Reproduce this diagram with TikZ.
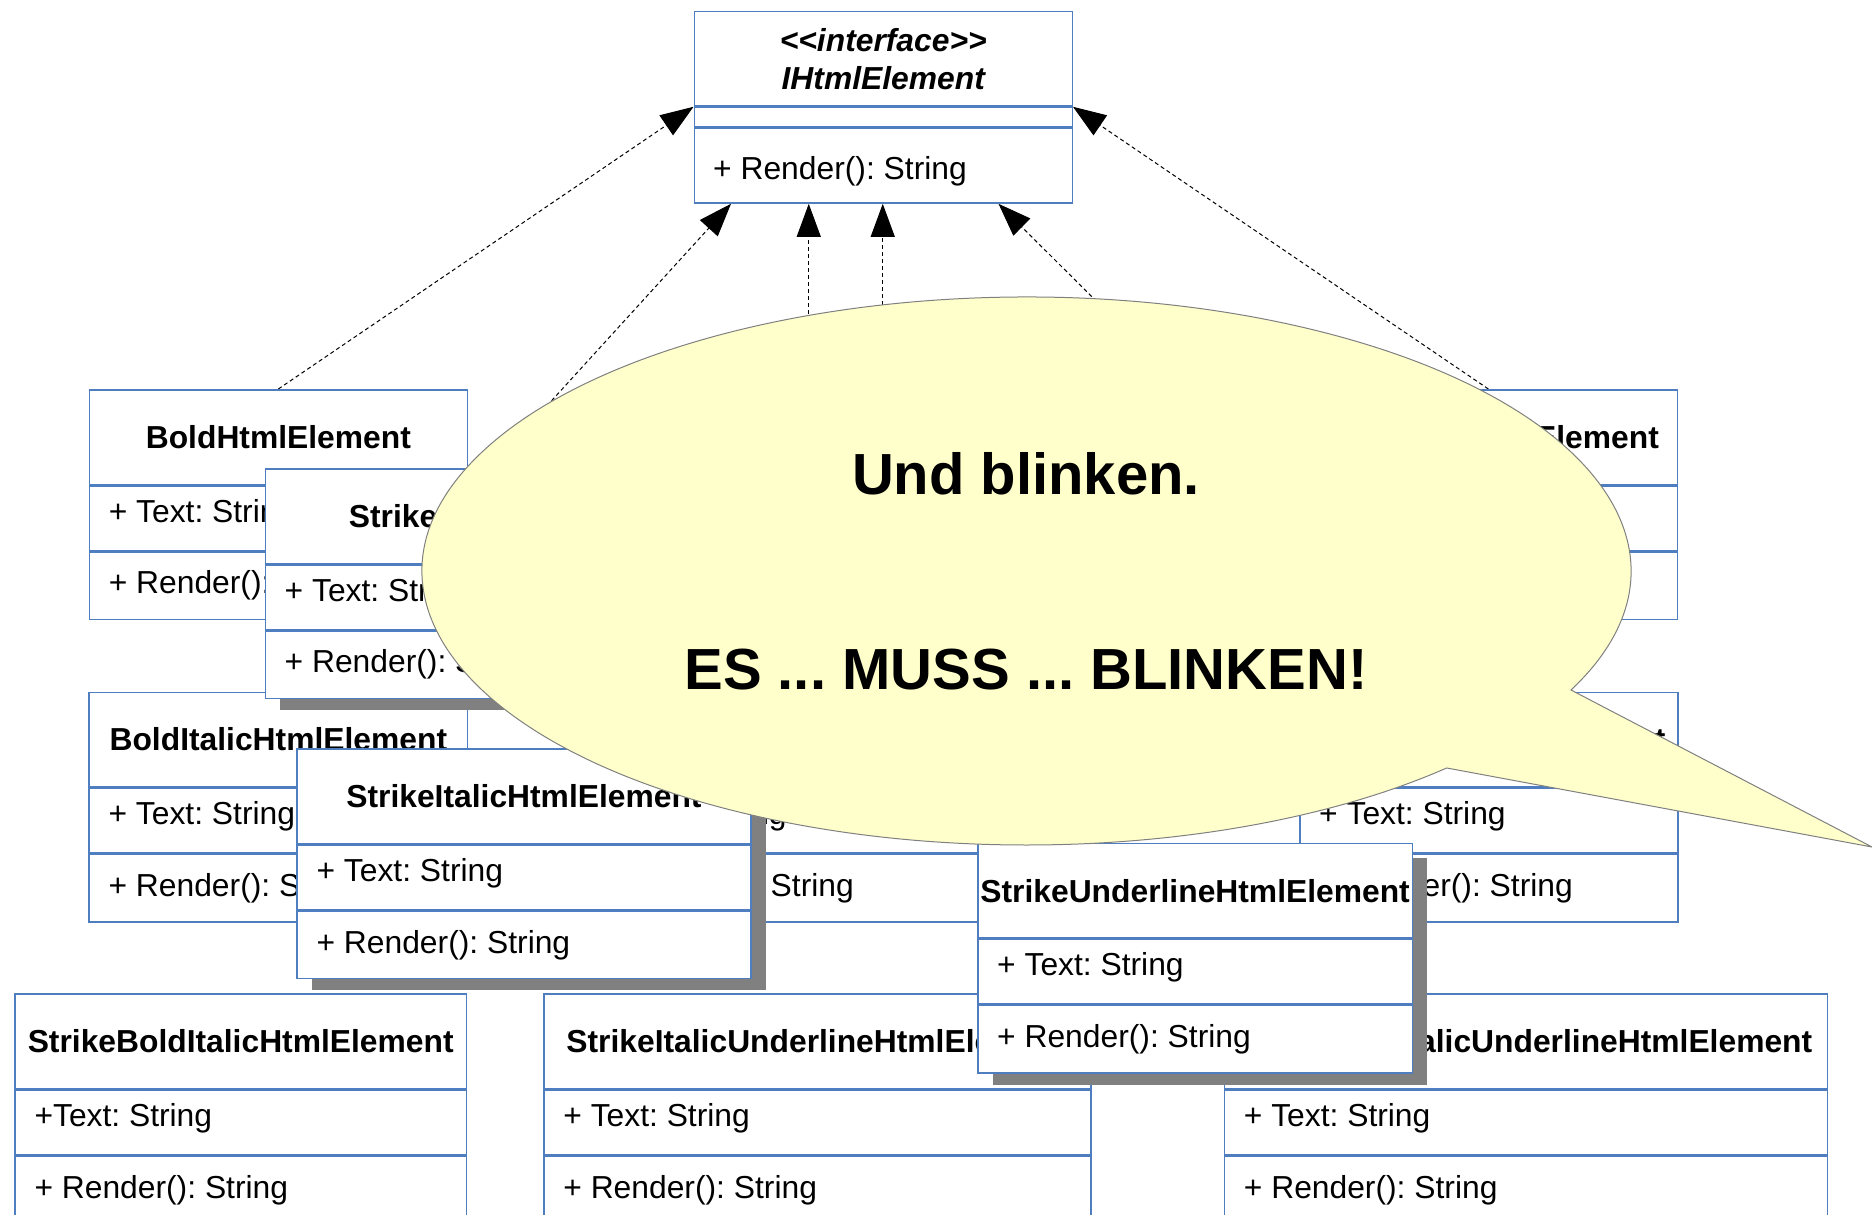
\documentclass[tikz,border=0pt]{standalone}
\usepackage{fontspec}
\setmainfont{Liberation Sans}
\usetikzlibrary{arrows.meta}
\definecolor{umlblue}{RGB}{79,126,192}
\definecolor{shadowgray}{RGB}{128,128,128}
\definecolor{bubblefill}{RGB}{255,255,204}
\definecolor{bubbleline}{RGB}{128,128,128}
\frenchspacing
\newcommand\umlsize{\fontsize{31.8}{38}\selectfont}
% class box: name, left, top, width, title, attribute, operation
\newcommand\umlclass[7]{%
  \node[classhead, minimum width=#4pt, anchor=north west] (#1) at (#2,#3) {#5};
  \node[classrow, minimum width=#4pt, minimum height=64.5pt, anchor=north west] (#1-attr) at (#1.south west) {};
  \node[classrow, minimum width=#4pt, minimum height=67.5pt, anchor=north west] (#1-op) at (#1-attr.south west) {};
  \node[member, anchor=west] (#1-attrtext) at ([xshift=20pt,yshift=4pt]#1-attr.west) {#6};
  \node[member, anchor=west] (#1-optext) at ([xshift=20pt]#1-op.west) {#7};
}
% drop shadow behind a class box: left, top, width
\newcommand\umlshadow[3]{%
  \fill[shadowgray] (#1+15.5,#2+15.5) rectangle ++(#3,226.5);
}
\pgfdeclarelayer{background}
\pgfsetlayers{background,main}
\tikzset{
  classhead/.style={draw=umlblue, fill=white, line width=1.5pt, inner sep=0pt,
    minimum height=94.5pt, font=\bfseries\umlsize},
  classrow/.style={draw=umlblue, fill=white, line width=1.5pt, inner sep=0pt},
  member/.style={inner sep=0pt, font=\umlsize},
  realize/.style={draw=black, line width=1pt, dash pattern=on 4pt off 3pt,
    -{Triangle[length=33pt,width=24pt]}},
  bubble/.style={draw=bubbleline, line width=1pt, fill=bubblefill},
  shout/.style={font=\bfseries\fontsize{58}{70}\selectfont, inner sep=0pt}
}
\begin{document}
\begin{tikzpicture}[x=1pt,y=-1pt]
\useasboundingbox (0,0) rectangle (1872,1215);

% interface
\node[classhead, minimum width=378pt, minimum height=94.6pt, align=center,
  font=\bfseries\itshape\fontsize{31.8}{38}\selectfont, anchor=north west]
  (iface) at (693.5,10.7) {<{}<interface>{}>\\IHtmlElement};
\node[classrow, minimum width=378pt, minimum height=19pt, anchor=north west]
  (iface-attr) at (iface.south west) {};
\node[classrow, minimum width=378pt, minimum height=75pt, anchor=north west]
  (iface-op) at (iface-attr.south west) {};
\node[member, anchor=west] (iface-optext) at (713,171) {+ Render(): String};

% plain boxes
\umlclass{bold}{88.6}{389}{378}{BoldHtmlElement}{+ Text: String}{+ Render(): String}
\umlclass{italic}{693}{389}{378}{ItalicHtmlElement}{+ Text: String}{+ Render(): String}
\umlclass{underline}{1298.6}{389}{378}{UnderlineHtmlElement}{+ Text: String}{+ Render(): String}
\umlclass{bolditalic}{88.4}{691.5}{378.4}{BoldItalicHtmlElement}{+ Text: String}{+ Render(): String}
\umlclass{boldunderline}{580}{691.5}{456}{BoldUnderlineHtmlElement}{+ Text: String}{+ Render(): String}
\umlclass{strikebold}{1299}{691.5}{378}{StrikeBoldHtmlElement}{+ Text: String}{+ Render(): String}
\umlclass{strikebolditalic}{14.3}{993.3}{451.3}{StrikeBoldItalicHtmlElement}{+Text: String}{+ Render(): String}
\umlclass{strikeitalicunderline}{543.2}{993.3}{546.8}{StrikeItalicUnderlineHtmlElement}{+ Text: String}{+ Render(): String}
\umlclass{allstyles}{1223.7}{993.3}{603}{StrikeBoldItalicUnderlineHtmlElement}{+ Text: String}{+ Render(): String}

% boxes with shadows
\umlshadow{264.5}{468}{450}
\umlclass{strike}{264.5}{468}{450}{StrikeHtmlElement}{+ Text: String}{+ Render(): String}
\umlshadow{296.4}{748.3}{453.6}
\umlclass{strikeitalic}{296.4}{748.3}{453.6}{StrikeItalicHtmlElement}{+ Text: String}{+ Render(): String}
\umlshadow{977}{842.7}{434.7}
\umlclass{strikeunderline}{977}{842.7}{434.7}{StrikeUnderlineHtmlElement}{+ Text: String}{+ Render(): String}

% realization connectors
\begin{pgfonlayer}{background}
\fill[white] (0,0) rectangle (1872,1215);
\draw[realize] (bold.north) -- (iface-attr.north west);
\draw[realize] (underline.north) -- (iface-attr.north east);
\draw[realize] (strike.north) -- ([xshift=37.5pt]iface-op.south west);
\draw[realize] (boldunderline.north) -- (boldunderline.north |- iface-op.south);
\draw[realize] (italic.north) -- (italic.north |- iface-op.south);
\draw[realize] (strikebold.north) -- ([xshift=-74.5pt]iface-op.south east);
\end{pgfonlayer}

% speech bubble
\draw[bubble] (1571,690) arc[start angle=25.74, end angle=-314.04, x radius=604.5, y radius=274]
  -- (1872,847) -- cycle;
\node[shout] (blink1) at (1026,474) {Und blinken.};
\node[shout] (blink2) at (1026,670) {ES ... MUSS ... BLINKEN!};
\end{tikzpicture}
\end{document}
